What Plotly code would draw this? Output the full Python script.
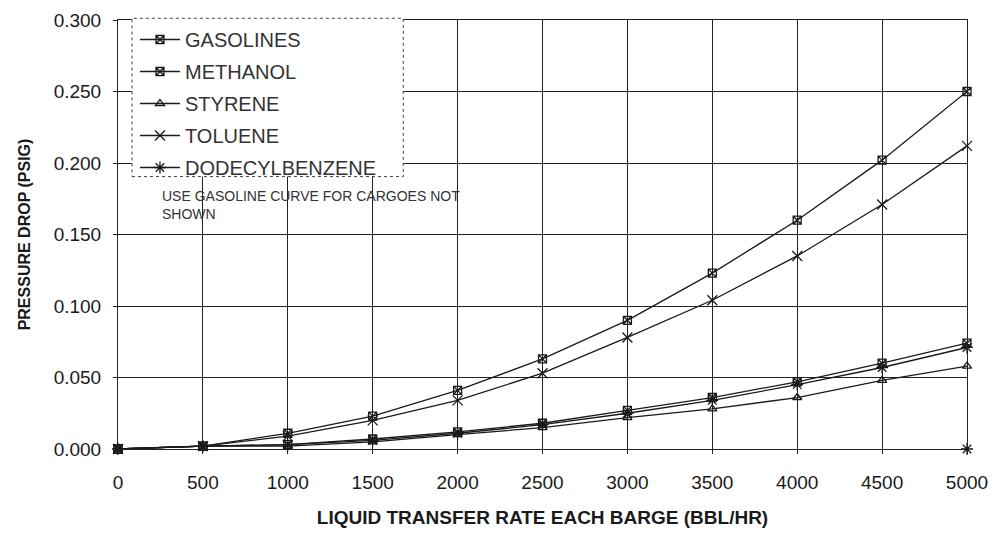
import plotly.graph_objects as go

# Liquid transfer rate (BBL/HR)
rate = [0, 500, 1000, 1500, 2000, 2500, 3000, 3500, 4000, 4500, 5000]

# Pressure drop (PSIG) per cargo
gasolines = [0.000, 0.002, 0.011, 0.023, 0.041, 0.063, 0.090, 0.123, 0.160, 0.202, 0.250]
methanol = [0.000, 0.002, 0.003, 0.007, 0.012, 0.018, 0.027, 0.036, 0.047, 0.060, 0.074]
styrene = [0.000, 0.002, 0.002, 0.005, 0.010, 0.015, 0.022, 0.028, 0.036, 0.048, 0.058]
toluene = [0.000, 0.002, 0.009, 0.020, 0.034, 0.053, 0.078, 0.104, 0.135, 0.171, 0.212]
dodecylbenzene = [0.000, 0.002, 0.003, 0.006, 0.011, 0.017, 0.025, 0.034, 0.045, 0.057, 0.071]

# stray marker sitting on the axis at the right edge
stray_x = [5000]
stray_y = [0.000]

FONT = "Liberation Sans, Arial, sans-serif"
INK = "#1a1a1a"

series = [
    ("GASOLINES", gasolines, "square-x-open", 8),
    ("METHANOL", methanol, "square-x-open", 8),
    ("STYRENE", styrene, "triangle-up-open", 8),
    ("TOLUENE", toluene, "x-thin-open", 10),
    ("DODECYLBENZENE", dodecylbenzene, "asterisk-open", 10),
]

fig = go.Figure()
for i, (name, vals, sym, size) in enumerate(series):
    fig.add_trace(go.Scatter(
        x=rate, y=vals, name=name, mode="lines+markers",
        line=dict(color=INK, width=1.3),
        marker=dict(symbol=sym, size=size, color=INK, line=dict(width=1.3, color=INK)),
        legendgroup=f"g{i}",
        cliponaxis=False,
    ))

fig.add_trace(go.Scatter(
    x=stray_x, y=stray_y, mode="markers", showlegend=False,
    marker=dict(symbol="asterisk-open", size=10, color=INK, line=dict(width=1.3, color=INK)),
    cliponaxis=False,
))

# legend frame (dotted, white fill over grid)
fig.add_shape(type="rect", xref="paper", yref="paper",
              x0=0.0165, x1=0.336, y0=0.635, y1=1.004,
              line=dict(color="#444", width=1, dash="dot"),
              fillcolor="white", layer="above")

fig.add_annotation(
    x=0.049, y=0.614, xref="paper", yref="paper", xanchor="left", yanchor="top",
    text="USE GASOLINE CURVE FOR CARGOES NOT<br>SHOWN", showarrow=False, align="left",
    font=dict(family=FONT, size=14, color="#333"),
)

fig.update_layout(
    width=980, height=520,
    paper_bgcolor="white", plot_bgcolor="white",
    margin=dict(l=110, r=21, t=12, b=79, autoexpand=False),
    font=dict(family=FONT, size=17, color=INK),
    showlegend=True,
    legend=dict(x=0.02, y=1.0, xanchor="left", yanchor="top",
                bgcolor="rgba(0,0,0,0)", borderwidth=0,
                font=dict(family=FONT, size=20, color="#333"),
                tracegroupgap=3, itemwidth=40),
    xaxis=dict(
        range=[0, 5000], dtick=500, tick0=0,
        showgrid=True, gridcolor="#222", gridwidth=1,
        showline=True, linecolor="#222", mirror=True,
        ticks="outside", ticklen=4, tickcolor="#222",
        zeroline=False, automargin=False,
        ticklabelstandoff=12, ticklabeloverflow="allow",
        title=dict(text="<b>LIQUID TRANSFER RATE EACH BARGE (BBL/HR)</b>",
                   font=dict(family=FONT, size=19), standoff=20),
        tickfont=dict(family=FONT, size=19),
    ),
    yaxis=dict(
        range=[0, 0.3], dtick=0.05, tick0=0, tickformat=".3f",
        showgrid=True, gridcolor="#222", gridwidth=1,
        showline=True, linecolor="#222", mirror=True,
        ticks="outside", ticklen=4, tickcolor="#222",
        zeroline=False, automargin=False,
        ticklabelstandoff=8, ticklabeloverflow="allow",
        title=dict(text="<b>PRESSURE DROP (PSIG)</b>",
                   font=dict(family=FONT, size=16), standoff=19),
        tickfont=dict(family=FONT, size=19),
    ),
)

fig.write_html("out.html")
